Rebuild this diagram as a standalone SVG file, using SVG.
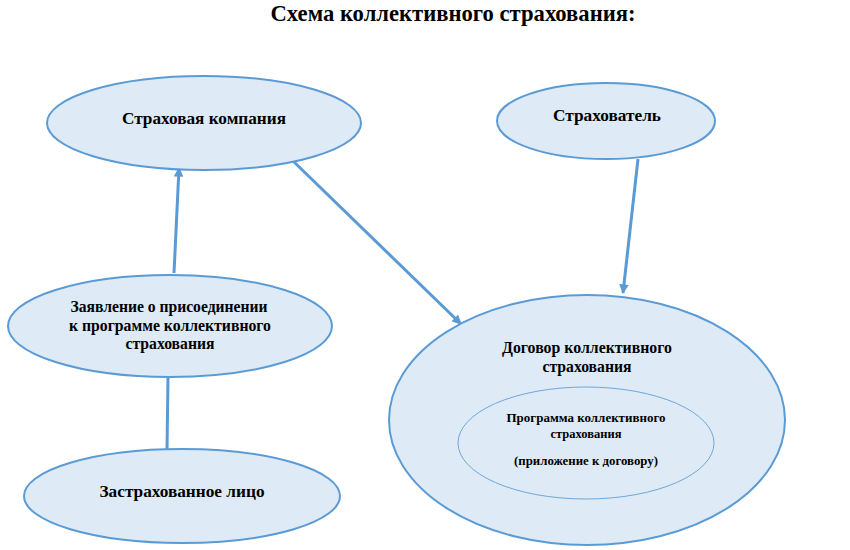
<svg xmlns="http://www.w3.org/2000/svg" width="850" height="550" viewBox="0 0 850 550">
<style>
.node{fill:#DEEAF6;stroke:#5B9BD5;stroke-width:2}
.inner{fill:#DEEAF6;stroke:#6FA6DB;stroke-width:1}
.t{font-family:'Liberation Serif','Times New Roman',serif;font-weight:700;fill:#000;text-anchor:middle}
.conn{stroke:#5B9BD5;stroke-width:3;fill:none}
</style>
<defs>
<marker id="arr" viewBox="0 0 10 10" refX="9" refY="5" markerWidth="3.4" markerHeight="3.2" orient="auto" markerUnits="strokeWidth">
<path d="M0,0 L10,5 L0,10 z" fill="#5B9BD5"/>
</marker>
</defs>
<rect width="850" height="550" fill="#fff"/>
<text class="t" x="453" y="21" font-size="24" textLength="365" lengthAdjust="spacingAndGlyphs">Схема коллективного страхования:</text>

<g id="connectors">
<line class="conn" x1="174" y1="273" x2="179" y2="168" marker-end="url(#arr)"/>
<line class="conn" x1="293" y1="161" x2="461" y2="324" marker-end="url(#arr)"/>
<line class="conn" x1="638" y1="159" x2="623" y2="293" marker-end="url(#arr)"/>
<line class="conn" x1="168" y1="377" x2="167" y2="450"/>
</g>

<g id="insurer">
<ellipse class="node" cx="204" cy="123" rx="157" ry="47"/>
<text class="t" x="204" y="124" font-size="17" textLength="164" lengthAdjust="spacingAndGlyphs">Страховая компания</text>
</g>

<g id="policyholder">
<ellipse class="node" cx="606" cy="121" rx="109" ry="38"/>
<text class="t" x="607" y="121" font-size="17" textLength="108" lengthAdjust="spacingAndGlyphs">Страхователь</text>
</g>

<g id="application">
<ellipse class="node" cx="170" cy="326" rx="162" ry="51"/>
<text class="t" x="169" y="312" font-size="16" textLength="197" lengthAdjust="spacingAndGlyphs">Заявление о присоединении</text>
<text class="t" x="170" y="331" font-size="16" textLength="202" lengthAdjust="spacingAndGlyphs">к программе коллективного</text>
<text class="t" x="170" y="349" font-size="16" textLength="89" lengthAdjust="spacingAndGlyphs">страхования</text>
</g>

<g id="insured">
<ellipse class="node" cx="182" cy="496" rx="158" ry="47"/>
<text class="t" x="182" y="497" font-size="17" textLength="165" lengthAdjust="spacingAndGlyphs">Застрахованное лицо</text>
</g>

<g id="contract">
<ellipse class="node" cx="587" cy="420" rx="198" ry="125"/>
<text class="t" x="587" y="353" font-size="16" textLength="170" lengthAdjust="spacingAndGlyphs">Договор коллективного</text>
<text class="t" x="587" y="372" font-size="16" textLength="89" lengthAdjust="spacingAndGlyphs">страхования</text>
</g>

<g id="program">
<ellipse class="inner" cx="586" cy="443" rx="128" ry="56"/>
<text class="t" x="586" y="422" font-size="13" textLength="159" lengthAdjust="spacingAndGlyphs">Программа коллективного</text>
<text class="t" x="586" y="438" font-size="13" textLength="71" lengthAdjust="spacingAndGlyphs">страхования</text>
<text class="t" x="586" y="465" font-size="13" textLength="144" lengthAdjust="spacingAndGlyphs">(приложение к договору)</text>
</g>
</svg>
